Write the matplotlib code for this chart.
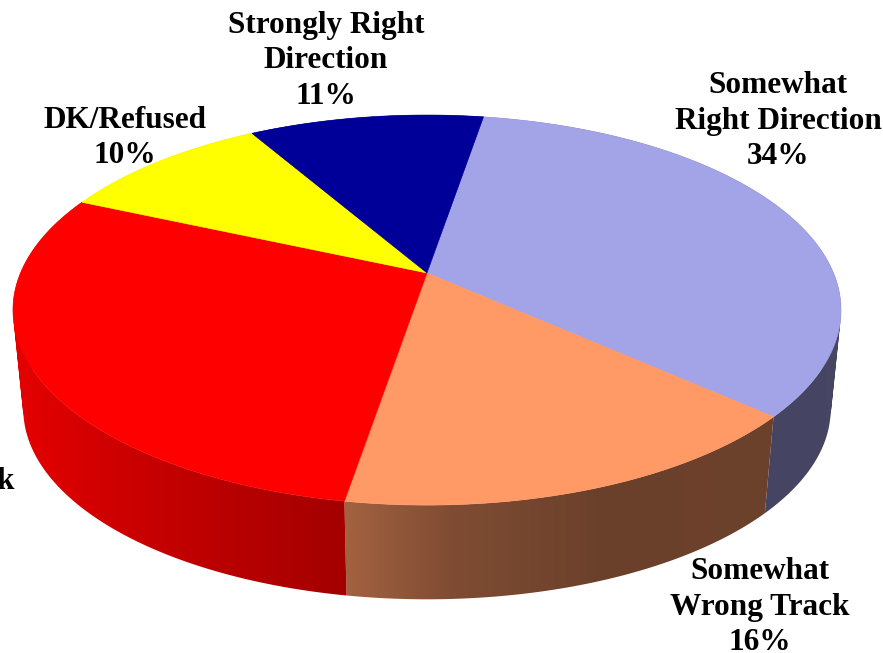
import matplotlib
matplotlib.use("Agg")
import matplotlib.pyplot as plt
from matplotlib.patches import Polygon, PathPatch
from matplotlib.path import Path
import numpy as np

# clockwise from the navy/periwinkle boundary
labels = ["Somewhat\nRight Direction\n34%", "Somewhat\nWrong Track\n16%",
          "Strongly\nWrong Track\n29%", "DK/Refused\n10%",
          "Strongly Right\nDirection\n11%"]
values = [34, 16, 29, 10, 11]
colors = ["#A3A3E8", "#FF9966", "#FF0000", "#FFFF00", "#000099"]

label_x = [778, 760, -75, 125, 326]
label_y = [121, 607, 482, 138, 61]

START_ANGLE = 80.5
CX, CY = 427, 273          # pie centre on the page
A, B, K = 406.5, 188, 0.19  # perspective of the tilted disc
DROP, SCALE = 100, 0.975   # rim bottom relative to the top face


def project(theta, scale=1.0, drop=0.0):
    u = np.cos(np.radians(theta))
    v = np.sin(np.radians(theta))
    w = 1 + K * v
    return CX + scale * A * u / w, CY + drop - scale * B * v / w


def side_shade(x):
    return np.interp(x, [12, 150, 345, 450, 600, 840],
                     [0.90, 0.78, 0.64, 0.50, 0.42, 0.43])


def rim_path(theta0, theta1):
    # strip of quads, all wound the same way so overlaps at the silhouette stay filled
    t = np.linspace(theta0, theta1, 200)
    x0, y0 = project(t)
    x1, y1 = project(t, SCALE, DROP)
    verts = []
    codes = []
    for j in range(len(t) - 1):
        q = np.array([(x0[j], y0[j]), (x0[j + 1], y0[j + 1]),
                      (x1[j + 1], y1[j + 1]), (x1[j], y1[j])])
        area = np.sum(q[:, 0] * np.roll(q[:, 1], -1) - np.roll(q[:, 0], -1) * q[:, 1])
        if area < 0:
            q = q[::-1]
        verts.extend(q.tolist() + [q[0].tolist()])
        codes.extend([Path.MOVETO, Path.LINETO, Path.LINETO, Path.LINETO, Path.CLOSEPOLY])
    return Path(verts, codes)


fig = plt.figure(figsize=(8.83, 6.53), dpi=100)
ax = fig.add_axes([0, 0, 1, 1])
ax.axis("off")

edges = START_ANGLE - np.cumsum([0] + values) * 3.6
xs = np.arange(0, 884)

# rim first, the top face hides the back of it
for i, c in enumerate(colors):
    rim = PathPatch(rim_path(edges[i], edges[i + 1]), facecolor="none", edgecolor="none")
    ax.add_patch(rim)
    grad = np.outer(side_shade(xs), matplotlib.colors.to_rgb(c))[np.newaxis, :, :]
    im = ax.imshow(grad, extent=[0, 883, 653, 0], aspect="auto", zorder=2,
                   interpolation="bilinear")
    im.set_clip_path(rim)

for i, c in enumerate(colors):
    t = np.linspace(edges[i], edges[i + 1], 200)
    x, y = project(t)
    pts = np.column_stack([np.r_[CX, x], np.r_[CY, y]])
    ax.add_patch(Polygon(pts, closed=True, facecolor=c, edgecolor=c, lw=0.4, zorder=3))

for lab, lx, ly in zip(labels, label_x, label_y):
    ax.text(lx, ly, lab, ha="center", va="center", family="Liberation Serif",
            fontweight="bold", fontsize=22.5, linespacing=1.3, color="black", zorder=5)

ax.set_xlim(0, 883)
ax.set_ylim(653, 0)

fig.savefig("out.png", dpi=100)
plt.close(fig)
